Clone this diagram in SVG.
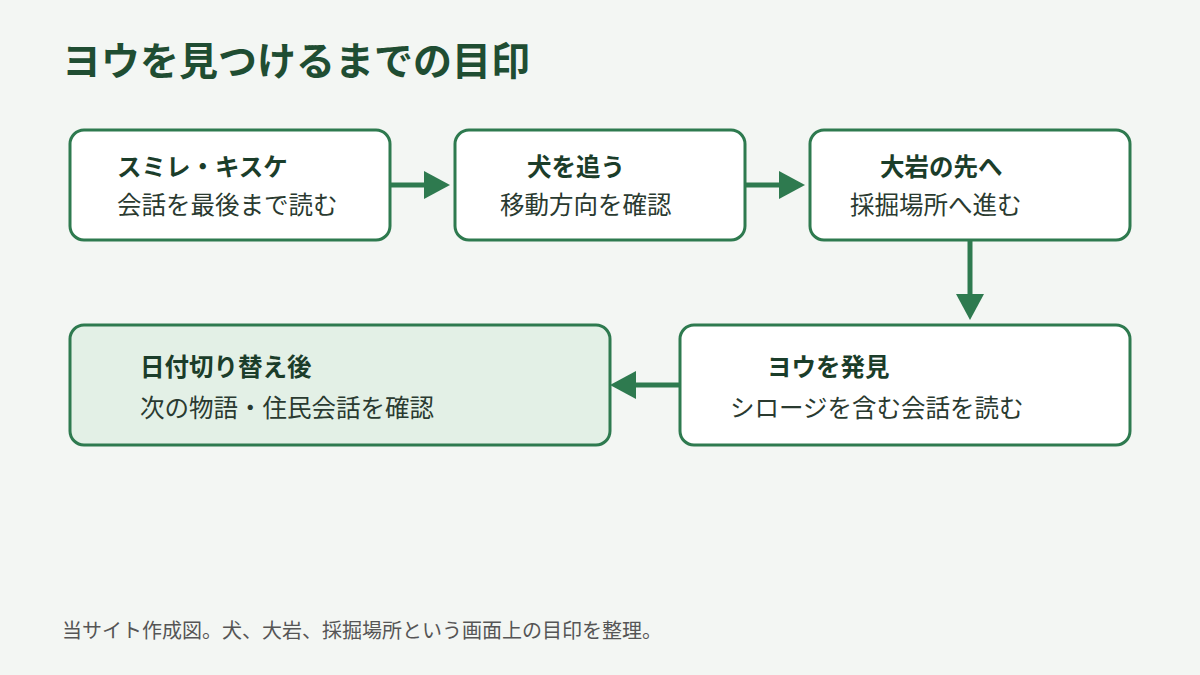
<svg xmlns="http://www.w3.org/2000/svg" width="1200" height="675" viewBox="0 0 1200 675">
<style>
text{font-family:"Noto Sans CJK JP","Noto Sans",sans-serif}
.b{fill:#fff;stroke:#2e7a4f;stroke-width:3}
.t{font-size:24.5px;font-weight:bold;fill:#1b3d2a}
.s{font-size:24.5px;fill:#2a3a30}
.c{stroke:#2e7a4f;stroke-width:5;fill:none}
.h{fill:#2e7a4f}
</style>
<rect width="1200" height="675" fill="#f3f6f3"/>
<text x="62" y="75" font-size="39" font-weight="bold" fill="#1f4d32">ヨウを見つけるまでの目印</text>
<g id="n1"><rect class="b" x="70" y="130" width="320" height="110" rx="14"/><text class="t" x="117" y="176">スミレ・キスケ</text><text class="s" x="117" y="214">会話を最後まで読む</text></g>
<g id="n2"><rect class="b" x="455" y="130" width="290" height="110" rx="14"/><text class="t" x="527" y="176">犬を追う</text><text class="s" x="500" y="214">移動方向を確認</text></g>
<g id="n3"><rect class="b" x="810" y="130" width="320" height="110" rx="14"/><text class="t" x="880" y="176">大岩の先へ</text><text class="s" x="850" y="214">採掘場所へ進む</text></g>
<g id="n4"><rect class="b" x="680" y="325" width="450" height="120" rx="14"/><text class="t" x="767" y="376">ヨウを発見</text><text class="s" x="730" y="417">シロージを含む会話を読む</text></g>
<g id="n5"><rect class="b" x="70" y="325" width="540" height="120" rx="14" style="fill:#e3f0e6"/><text class="t" x="140" y="376">日付切り替え後</text><text class="s" x="140" y="417">次の物語・住民会話を確認</text></g>
<g id="connectors">
<line class="c" x1="390" y1="185" x2="428" y2="185"/><polygon class="h" points="424,171 450,185 424,199"/>
<line class="c" x1="745" y1="185" x2="783" y2="185"/><polygon class="h" points="779,171 805,185 779,199"/>
<line class="c" x1="970" y1="240" x2="970" y2="298"/><polygon class="h" points="956,294 984,294 970,320"/>
<line class="c" x1="680" y1="385" x2="632" y2="385"/><polygon class="h" points="636,371 610,385 636,399"/>
</g>
<text x="62" y="638" font-size="20" fill="#555">当サイト作成図。犬、大岩、採掘場所という画面上の目印を整理。</text>
</svg>
